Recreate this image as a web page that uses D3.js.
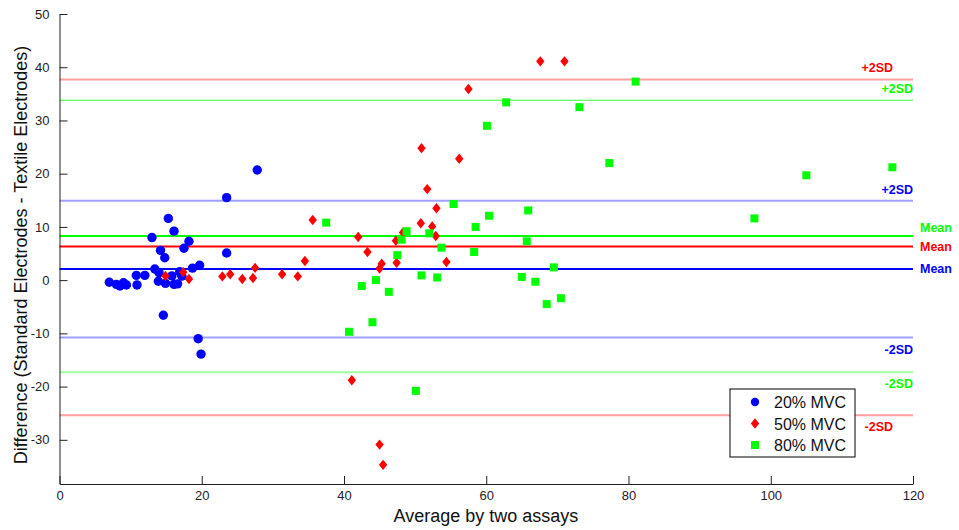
<!DOCTYPE html>
<html>
<head>
<meta charset="utf-8">
<script src="https://cdn.jsdelivr.net/npm/d3@7"></script>
<style>
  body { margin: 0; background: #fff; }
  svg text { font-family: "Liberation Sans", Arial, sans-serif; }
</style>
</head>
<body>
<div id="graph_box"></div>
<script>
// values
var blueX = [7.0, 8.0, 8.5, 9.0, 9.4, 10.8, 10.9, 12.0, 13.0, 13.4, 14.0, 13.9, 14.2, 14.8, 14.6, 14.9,
  15.3, 15.8, 16.1, 16.1, 16.6, 16.9, 17.2, 17.5, 18.2, 18.7, 19.7, 19.5, 19.9, 23.5, 23.5, 27.8];
var blueY = [-0.4, -0.8, -1.1, -0.5, -0.9, 0.9, -0.9, 0.9, 8.0, 2.1, 1.4, -0.2, 5.6, 4.2, -6.6, -0.6,
  11.6, 0.8, 9.2, -0.8, -0.7, 1.6, 0.75, 6.0, 7.3, 2.25, 2.8, -11.0, -13.9, 15.5, 5.1, 20.7];

var redX = [14.9, 17.4, 18.2, 22.9, 24.0, 25.7, 27.2, 27.5, 31.3, 33.5, 34.5, 35.6, 41.1, 42.0, 43.3,
  45.0, 45.3, 45.0, 45.5, 47.3, 47.4, 48.3, 50.8, 50.9, 51.7, 52.4, 52.9, 53.0, 54.4, 56.2, 57.5, 67.6, 71.0];
var redY = [0.8, 1.5, 0.2, 0.7, 1.1, 0.2, 0.4, 2.3, 1.1, 0.7, 3.6, 11.3, -18.8, 8.1, 5.3,
  2.2, 3.1, -30.9, -34.7, 7.4, 3.25, 8.95, 10.7, 24.8, 17.1, 10.1, 8.3, 13.5, 3.4, 22.8, 35.9, 41.1, 41.1];

var greenX = [37.5, 40.7, 42.5, 44.0, 44.5, 46.3, 47.5, 48.1, 48.8, 50.1, 50.9, 52.0, 53.1, 53.7, 55.4,
  58.3, 58.5, 60.1, 60.4, 62.8, 65.0, 65.7, 65.9, 66.9, 68.5, 69.5, 70.5, 73.1, 77.3, 81.0, 97.7, 105.0, 117.1];
var greenY = [10.8, -9.7, -1.1, -7.9, 0.0, -2.2, 4.7, 7.6, 9.2, -20.8, 0.9, 8.8, 0.5, 6.1, 14.3,
  5.3, 10.0, 29.0, 12.1, 33.4, 0.6, 7.3, 13.1, -0.3, -4.5, 2.4, -3.4, 32.5, 22.0, 37.3, 11.6, 19.7, 21.2];

// mean and +/-2SD per group: [blue, red, green]
var meanVals = [2.1, 6.3, 8.3];
var plusSD = [14.9, 37.7, 33.8];
var minusSD = [-10.8, -25.4, -17.3];

var xTicks = [0, 20, 40, 60, 80, 100, 120];
var yTicks = [-30, -20, -10, 0, 10, 20, 30, 40, 50];
var legendLabels = ["20% MVC", "50% MVC", "80% MVC"];

var colors = ["#0000ff", "#ff0000", "#00ff00"];
var lightColors = ["#a0a0ff", "#ffa0a0", "#30ff30"];
var lightColorsLow = ["#a0a0ff", "#ffa0a0", "#a0ffa0"];

var W = 959, H = 530;
var svg = d3.select("#graph_box").append("svg")
  .attr("width", W).attr("height", H);

var x = d3.scaleLinear().domain([0, 120]).range([59.5, 913]);
var y = d3.scaleLinear().domain([-38.3, 50]).range([484, 14]);

// horizontal reference lines
function hline(v, color, w) {
  svg.append("line")
    .attr("x1", x(0)).attr("x2", x(120))
    .attr("y1", y(v)).attr("y2", y(v))
    .attr("stroke", color).attr("stroke-width", w);
}
[0, 1, 2].forEach(function (i) {
  hline(plusSD[i], lightColors[i], i == 2 ? 1.2 : 2);
  hline(minusSD[i], lightColorsLow[i], 2);
  hline(meanVals[i], colors[i], 2);
});

// line labels
function lbl(txt, xp, yp, color, anchor) {
  svg.append("text").attr("x", xp).attr("y", yp)
    .attr("text-anchor", anchor)
    .style("font-size", "12.5px").style("font-weight", "bold")
    .attr("fill", color).text(txt);
}
var labelEnd = [913, 893, 913];
var meanDy = [4, 4, -4];
[0, 1, 2].forEach(function (i) {
  lbl("+2SD", labelEnd[i], y(plusSD[i]) - 7, colors[i], "end");
  lbl("-2SD", labelEnd[i], y(minusSD[i]) + 16, colors[i], "end");
  lbl("Mean", 920, y(meanVals[i]) + meanDy[i], colors[i], "start");
});

// axes
var fmt = function (d) { return String(d); };
var xAxis = d3.axisBottom(x).tickValues(xTicks).tickFormat(fmt).tickSizeInner(-8).tickSizeOuter(0).tickPadding(7);
var gx = svg.append("g").attr("transform", "translate(0," + 484 + ")").call(xAxis);
var yAxis = d3.axisLeft(y).tickValues(yTicks).tickFormat(fmt).tickSizeInner(-8).tickSizeOuter(0).tickPadding(10);
var gy = svg.append("g").attr("transform", "translate(" + 59.5 + ",0)").call(yAxis);
[gx, gy].forEach(function (g) {
  g.select(".domain").attr("stroke", "#222");
  g.selectAll(".tick line").attr("stroke", "#222");
  g.selectAll(".tick text").style("font-size", "13px").attr("fill", "#222")
    .style("font-family", "'Liberation Sans', Arial, sans-serif");
});

// axis titles
svg.append("text").attr("x", 486).attr("y", 522)
  .attr("text-anchor", "middle").style("font-size", "18px").attr("fill", "#111")
  .text("Average by two assays");
svg.append("text").attr("transform", "translate(27,255) rotate(-90)")
  .attr("text-anchor", "middle").style("font-size", "18px").attr("fill", "#111")
  .text("Difference (Standard Electrodes - Textile Electrodes)");

// points
var diamond = "M0,-5.2L4.2,0L0,5.2L-4.2,0Z";
svg.append("g").selectAll("circle").data(d3.zip(blueX, blueY)).enter()
  .append("circle")
  .attr("cx", function (d) { return x(d[0]); })
  .attr("cy", function (d) { return y(d[1]); })
  .attr("r", 4.7).attr("fill", colors[0]);
svg.append("g").selectAll("path").data(d3.zip(redX, redY)).enter()
  .append("path").attr("d", diamond)
  .attr("transform", function (d) { return "translate(" + x(d[0]) + "," + y(d[1]) + ")"; })
  .attr("fill", colors[1]);
svg.append("g").selectAll("rect").data(d3.zip(greenX, greenY)).enter()
  .append("rect")
  .attr("x", function (d) { return x(d[0]) - 4; })
  .attr("y", function (d) { return y(d[1]) - 4; })
  .attr("width", 8).attr("height", 8).attr("fill", colors[2]);

// legend
var lg = svg.append("g").attr("transform", "translate(730,389)");
lg.append("rect").attr("width", 125).attr("height", 68)
  .attr("fill", "#fff").attr("stroke", "#000").attr("stroke-width", 1);
legendLabels.forEach(function (t, i) {
  var cy = 13 + i * 21.5;
  if (i == 0) lg.append("circle").attr("cx", 25).attr("cy", cy).attr("r", 4.2).attr("fill", colors[0]);
  if (i == 1) lg.append("path").attr("d", diamond)
    .attr("transform", "translate(25," + cy + ")").attr("fill", colors[1]);
  if (i == 2) lg.append("rect").attr("x", 21).attr("y", cy - 4).attr("width", 8).attr("height", 8).attr("fill", colors[2]);
  lg.append("text").attr("x", 44).attr("y", cy + 6)
    .style("font-size", "16px").attr("fill", "#111").text(t);
});
</script>
</body>
</html>
